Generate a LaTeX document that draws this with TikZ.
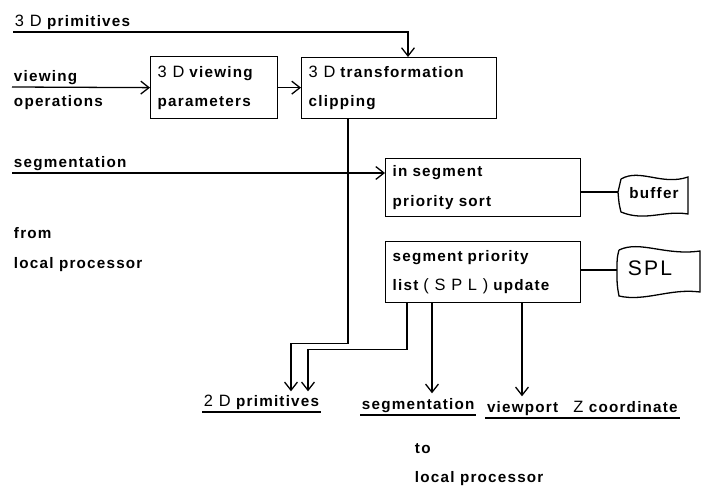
\documentclass[tikz,border=0pt]{standalone}
\usepackage{fontspec}
\setmainfont{Liberation Sans}[LetterSpace=8]
\usetikzlibrary{arrows.meta,calc}

% full-width characters (3D, SPL, Z)
\newcommand{\fullw}[1]{{\mdseries\fontsize{14}{16}\selectfont\addfontfeature{LetterSpace=35}#1}}

\tikzset{
    lbl/.style={font=\bfseries\fontsize{13}{15}\selectfont, inner sep=1.5pt},
    box/.style={draw, line width=1.1pt, anchor=north west, align=left,
        font=\bfseries\fontsize{13}{25}\selectfont, inner xsep=6pt, inner ysep=0pt},
    ln/.style={line width=1.1pt},
    arr/.style={line width=1.1pt, -{Straight Barb[length=7pt,width=11pt]}},
}

\begin{document}
\begin{tikzpicture}[x=0.03cm, y=-0.03cm]
    \useasboundingbox (0,0) rectangle (709,486);
    % inputs on the left
    \node[lbl, anchor=south west] (p3d) at (13,32) {\fullw{3D} primitives};
    \node[lbl, anchor=south west] (view) at (12,87) {viewing};
    \node[lbl, anchor=base west] (oper) at (12,107) {operations};
    \node[lbl, anchor=south west] (segin) at (12,173) {segmentation};
    \node[lbl, anchor=base west] (from) at (12,238) {from};
    \node[lbl, anchor=base west] (lpin) at (12,268) {local processor};
    % processing boxes
    \node[box, text width=3.39cm, minimum height=1.86cm] (vp) at (150,56) {\fullw{3D} viewing\\parameters};
    \node[box, text width=5.43cm, minimum height=1.83cm] (tr) at (301,57) {\fullw{3D} transformation\\clipping};
    \node[box, text width=5.43cm, minimum height=1.74cm] (sort) at (385,158) {in segment\\priority sort};
    \node[box, text width=5.43cm, minimum height=1.83cm] (upd) at (385,241) {segment priority\\list \fullw{(SPL)} update};
    % tape stores
    \node[lbl] (buf) at (654,193) {buffer};
    \node[font=\fontsize{18}{20}\selectfont, inner sep=1pt] (spl) at (650,268) {\addfontfeature{LetterSpace=10}SPL};
    \draw[ln] (621,179) .. controls (640,168) and (662,186) .. (688,177) -- (688,214)
        .. controls (664,210) and (645,222) .. (621,212)
        .. controls (619,204) .. (618,192) .. controls (619,186) .. (621,179);
    \draw[ln] (619,250) .. controls (640,240) and (665,256) .. (700,251) -- (700,292)
        .. controls (670,288) and (645,302) .. (619,296)
        .. controls (617,285) .. (617,270) .. controls (617,258) .. (619,250);
    \coordinate (bufin) at (618,192);
    \coordinate (splin) at (617,270);
    % outputs at the bottom
    \node[lbl, anchor=south west] (p2d) at (202,412) {\fullw{2D} primitives};
    \node[lbl, anchor=south west] (segout) at (360,415) {segmentation};
    \node[lbl, anchor=south west] (vpz) at (485,418) {viewport\quad\fullw{Z} coordinate};
    \node[lbl, anchor=base west] (tolbl) at (413,453) {to};
    \node[lbl, anchor=base west] (lpout) at (413,482) {local processor};
    \draw[ln] (p2d.south west) -- (p2d.south east);
    \draw[ln] (segout.south west) -- (segout.south east);
    \draw[ln] (vpz.south west) -- (vpz.south east);
    % connectors
    \draw[arr] (p3d.south west) -| ($(tr.north west)+(107,0)$);
    \draw[arr] (view.south west) -- (vp.west);
    \draw[arr] (vp.east) -- (vp.east -| tr.west);
    \draw[arr] (segin.south west) -- (segin.south west -| sort.west);
    \draw[ln] (sort.east |- bufin) -- (bufin);
    \draw[ln] (upd.east |- splin) -- (splin);
    \draw[arr] ($(tr.south west)+(47,0)$) |- ++(-57,224) -- ++(0,48);
    \draw[arr] ($(upd.south west)+(22,0)$) |- ++(-99,46) -- ++(0,42);
    \draw[arr] ($(upd.south west)+(47,0)$) -- ++(0,90);
    \draw[arr] ($(upd.south west)+(137,0)$) -- ++(0,93);
\end{tikzpicture}
\end{document}
